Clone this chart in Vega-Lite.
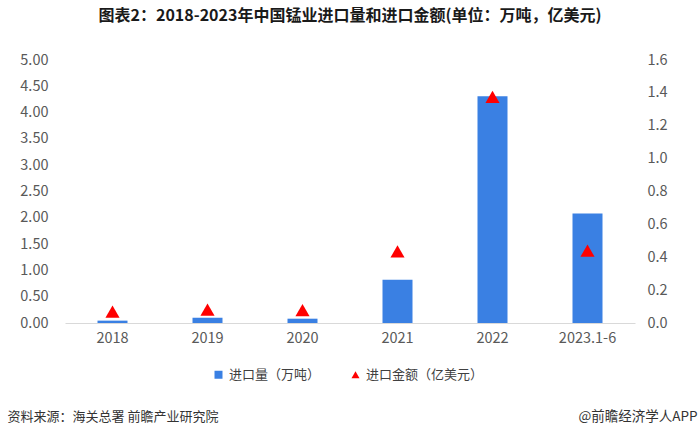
{
  "$schema": "https://vega.github.io/schema/vega-lite/v6.json",
  "width": 570,
  "height": 263,
  "autosize": {"type": "none"},
  "padding": {"left": 65, "top": 60, "right": 65, "bottom": 114},
  "background": "#ffffff",
  "title": {
    "text": "图表2：2018-2023年中国锰业进口量和进口金额(单位：万吨，亿美元)",
    "font": "Noto Sans CJK SC",
    "fontSize": 16,
    "fontWeight": "bold",
    "color": "#1a1a1a",
    "anchor": "middle",
    "offset": 28
  },
  "config": {
    "view": {"stroke": null},
    "font": "Noto Sans CJK SC",
    "axis": {"grid": false, "ticks": false, "labelColor": "#595959", "labelFontSize": 14.5, "labelFont": "Noto Sans CJK SC"},
    "legend": {"labelFont": "Noto Sans CJK SC"}
  },
  "data": {
    "values": [
      {"year": "2018", "series": "进口量（万吨）", "value": 0.045},
      {"year": "2019", "series": "进口量（万吨）", "value": 0.10},
      {"year": "2020", "series": "进口量（万吨）", "value": 0.082},
      {"year": "2021", "series": "进口量（万吨）", "value": 0.82},
      {"year": "2022", "series": "进口量（万吨）", "value": 4.31},
      {"year": "2023.1-6", "series": "进口量（万吨）", "value": 2.08},
      {"year": "2018", "series": "进口金额（亿美元）", "value": 0.069},
      {"year": "2019", "series": "进口金额（亿美元）", "value": 0.082},
      {"year": "2020", "series": "进口金额（亿美元）", "value": 0.078},
      {"year": "2021", "series": "进口金额（亿美元）", "value": 0.435},
      {"year": "2022", "series": "进口金额（亿美元）", "value": 1.375},
      {"year": "2023.1-6", "series": "进口金额（亿美元）", "value": 0.44}
    ]
  },
  "encoding": {
    "x": {
      "field": "year",
      "type": "ordinal",
      "sort": null,
      "scale": {"paddingInner": 0, "paddingOuter": 0},
      "axis": {
        "labelAngle": 0,
        "labelPadding": 8,
        "domainColor": "#d9d9d9",
        "domainWidth": 1,
        "title": "资料来源：海关总署 前瞻产业研究院",
        "titleFont": "Noto Sans CJK SC",
        "titleFontSize": 13,
        "titleFontWeight": "normal",
        "titleColor": "#333333",
        "titleX": -58,
        "titleY": 93,
        "titleAlign": "left",
        "titleBaseline": "middle"
      }
    },
    "color": {
      "field": "series",
      "type": "nominal",
      "scale": {"domain": ["进口量（万吨）", "进口金额（亿美元）"], "range": ["#3A80E3", "#FF0000"]},
      "legend": {
        "title": null,
        "orient": "none",
        "direction": "horizontal",
        "legendX": 147,
        "legendY": 308,
        "labelFontSize": 13,
        "labelColor": "#404040",
        "symbolSize": 64,
        "labelOffset": 4,
        "columnPadding": 28,
        "padding": 0
      }
    }
  },
  "layer": [
    {
      "transform": [{"filter": "datum.series === '进口量（万吨）'"}],
      "mark": {"type": "bar", "size": 30},
      "encoding": {
        "y": {
          "field": "value",
          "type": "quantitative",
          "scale": {"domain": [0, 5]},
          "axis": {
            "values": [0, 0.5, 1, 1.5, 2, 2.5, 3, 3.5, 4, 4.5, 5],
            "format": ".2f",
            "domain": false,
            "labelPadding": 17,
            "title": null
          }
        }
      }
    },
    {
      "transform": [{"filter": "datum.series === '进口金额（亿美元）'"}],
      "mark": {"type": "point", "filled": true, "opacity": 1, "size": 200},
      "encoding": {
        "y": {
          "field": "value",
          "type": "quantitative",
          "scale": {"domain": [0, 1.6]},
          "axis": {
            "orient": "right",
            "values": [0, 0.2, 0.4, 0.6, 0.8, 1.0, 1.2, 1.4, 1.6],
            "format": ".1f",
            "domain": false,
            "labelPadding": 12,
            "title": "@前瞻经济学人APP",
            "titleFont": "Noto Sans CJK SC",
            "titleFontSize": 13.5,
            "titleFontWeight": "normal",
            "titleColor": "#333333",
            "titleAngle": 0,
            "titleX": 62,
            "titleY": 356,
            "titleAlign": "right",
            "titleBaseline": "middle"
          }
        },
        "shape": {
          "field": "series",
          "type": "nominal",
          "scale": {"domain": ["进口量（万吨）", "进口金额（亿美元）"], "range": ["square", "triangle-up"]}
        }
      }
    }
  ],
  "resolve": {"scale": {"y": "independent"}}
}
